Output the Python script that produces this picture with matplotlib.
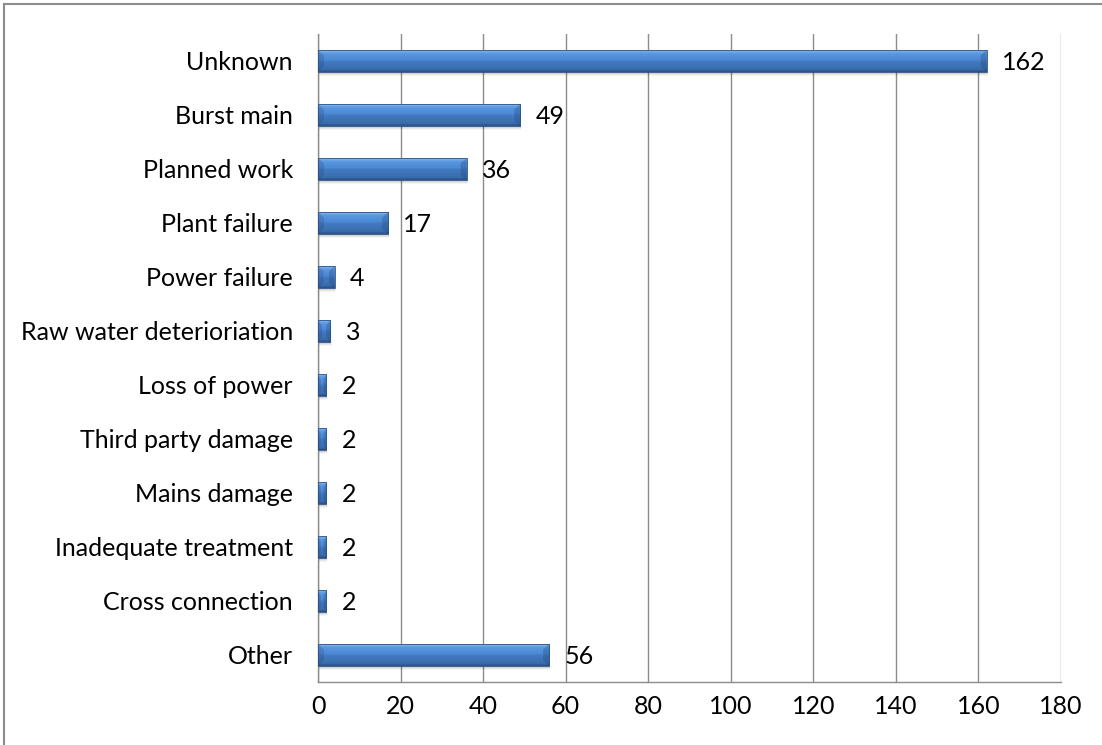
import numpy as np
import matplotlib.pyplot as plt
from matplotlib.patches import Rectangle, Polygon
from matplotlib.colors import LinearSegmentedColormap

kategorije = ["Unknown", "Burst main", "Planned work", "Plant failure",
              "Power failure", "Raw water deterioriation", "Loss of power",
              "Third party damage", "Mains damage", "Inadequate treatment",
              "Cross connection", "Other"]
vrednosti = [162, 49, 36, 17, 4, 3, 2, 2, 2, 2, 2, 56]

plt.rcParams['font.family'] = ['Lato', 'DejaVu Sans']

fig = plt.figure(figsize=(11.02, 7.45), dpi=100)
W, H = 1102, 745
ax = fig.add_axes([318 / W, 1 - 682 / H, (1061 - 318) / W, (682 - 34) / H])

n = len(kategorije)
ypos = np.arange(n)[::-1]
h = 0.42

# gradijent za stubove (odozgo nadole)
cmap = LinearSegmentedColormap.from_list("bar", [
    (0.0, "#b0d0f4"), (0.1, "#74abea"), (0.2, "#5896de"), (0.45, "#4d8ad5"),
    (0.55, "#4279c0"), (0.88, "#3a6dae"), (1.0, "#2a5085")])
grad = np.linspace(0, 1, 64).reshape(-1, 1)

px_x = 180 / (1061 - 318)
px_y = 1 / 54.0

for y, v in zip(ypos, vrednosti):
    y0, y1 = y - h / 2, y + h / 2
    # senka
    for k, a in [(1, 0.10), (2, 0.08), (3, 0.06), (4, 0.04)]:
        ax.add_patch(Rectangle((0, y0 - k * px_y), v + k * 0.3 * px_x, h,
                               fc="#000000", ec="none", alpha=a, zorder=2))
    rect = Rectangle((0, y0), v, h, fc="none", ec="#2a5585", lw=0.6, zorder=4)
    ax.add_patch(rect)
    im = ax.imshow(grad, cmap=cmap, extent=[0, v, y0, y1], aspect="auto",
                   origin="upper", zorder=3, interpolation="bilinear")
    im.set_clip_path(rect)
    # kosine na krajevima
    bx = min(6 * px_x, v / 3)
    by = 6 * px_y
    ax.add_patch(Polygon([(0, y1), (bx, y1 - by), (bx, y0 + by), (0, y0)],
                         closed=True, fc="#1f3f70", ec="none", alpha=0.22,
                         zorder=4))
    ax.add_patch(Polygon([(v, y1), (v - bx, y1 - by), (v - bx, y0 + by), (v, y0)],
                         closed=True, fc="#1f3f70", ec="none", alpha=0.28,
                         zorder=4))
    ax.annotate(str(v), (v, y), xytext=(11, 0), textcoords="offset points",
                va="center_baseline", ha="left", fontsize=18, color="black")

ax.set_xlim(0, 180)
ax.set_ylim(-0.5, n - 0.5)
ax.set_xticks(np.arange(0, 181, 20))
ax.set_yticks(ypos)
ax.set_yticklabels(kategorije)
ax.tick_params(axis="y", length=0, pad=18, labelsize=18)
ax.tick_params(axis="x", length=0, pad=9, labelsize=18)
ax.grid(axis="x", color="#8c8c8c", lw=1.0)
ax.set_axisbelow(True)
for s in ["top", "right"]:
    ax.spines[s].set_visible(False)
for s in ["left", "bottom"]:
    ax.spines[s].set_color("#8c8c8c")
    ax.spines[s].set_linewidth(1.0)

# okvir slike
fig.add_artist(plt.Line2D([4 / W, 4 / W], [0, 1 - 4 / H], transform=fig.transFigure,
                          color="#8c8c8c", lw=1.5))
fig.add_artist(plt.Line2D([4 / W, 1], [1 - 4 / H, 1 - 4 / H], transform=fig.transFigure,
                          color="#8c8c8c", lw=1.5))

fig.savefig("out.png", dpi=100)
